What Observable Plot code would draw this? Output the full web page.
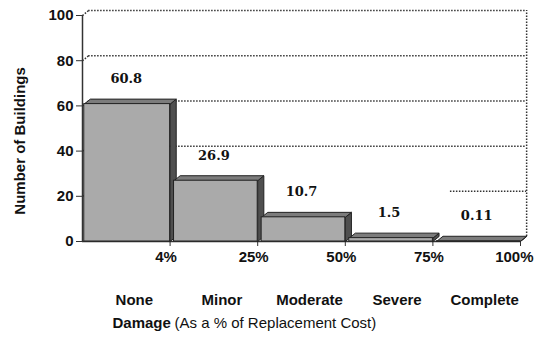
<!DOCTYPE html>
<html><head><meta charset="utf-8">
<script src="https://cdn.jsdelivr.net/npm/d3@7"></script>
<script src="https://cdn.jsdelivr.net/npm/@observablehq/plot@0.6"></script>
<style>html,body{margin:0;padding:0;background:#fff;}</style>
</head><body><div id="chart"></div>
<script>
const categories = ["None", "Minor", "Moderate", "Severe", "Complete"];
const values = [60.8, 26.9, 10.7, 1.5, 0.11];
const valueLabels = ["60.8", "26.9", "10.7", "1.5", "0.11"];
const edgeLabels = ["4%", "25%", "50%", "75%", "100%"];
const yTicks = [0, 20, 40, 60, 80, 100];
const gridLines = [100, 80, 60, 40, 20];

// 3D depth (in scale units) and bar inset
const DX = 0.07, DY = 2.2, GAP = 0.045;
const N = categories.length;

const bars = values.map((v, i) => ({i, v, cat: categories[i], label: valueLabels[i]}));
const edges = edgeLabels.map((t, i) => ({x: i + 1, t}));
const inset = i => i ? GAP : 0.02;
const poly = (pts, z) => [...pts, pts[0]].map(([x, y]) => ({x, y, z}));
const tops = bars.flatMap(b => poly([[b.i + inset(b.i), b.v], [b.i + 1, b.v], [b.i + 1 + DX, b.v + DY], [b.i + inset(b.i) + DX, b.v + DY]], b.i));
const sides = bars.flatMap(b => poly([[b.i + 1, 0], [b.i + 1, b.v], [b.i + 1 + DX, b.v + DY], [b.i + 1 + DX, DY]], b.i));

const dotted = {stroke: "#333", strokeWidth: 1.5, strokeDasharray: "1.5,1.5"};
const lab = {fontSize: 15, fontWeight: "bold", fill: "#111"};

const chart = Plot.plot({
  width: 534,
  height: 338,
  marginLeft: 82,
  marginRight: 14,
  marginTop: 15,
  marginBottom: 97,
  style: {fontFamily: "'Liberation Sans', Arial, sans-serif", fontSize: "15px", fontWeight: "bold", color: "#111", background: "#fff"},
  x: {domain: [0, N], axis: null},
  y: {domain: [0, 100], axis: null},
  marks: [
    // back wall grid
    Plot.ruleY(gridLines.filter(v => v !== 20), {y: d => d + DY, x1: DX, x2: N + DX, ...dotted}),
    Plot.ruleY(gridLines.filter(v => v === 20), {y: d => d + DY, x1: 4.2, x2: N + DX, ...dotted}),
    Plot.ruleX([N + DX], {y1: DY, y2: 100 + DY, ...dotted}),
    Plot.link(yTicks.slice(1), {x1: 0, y1: d => d, x2: DX, y2: d => d + DY, ...dotted}),
    // axes lines
    Plot.ruleX([0], {y1: 0, y2: 100, stroke: "#333", strokeWidth: 1.5}),
    Plot.ruleY([0], {x1: 0, x2: N, stroke: "#333", strokeWidth: 1.5}),
    Plot.axisY(yTicks, {label: null, tickSize: 6, tickPadding: 3, fontSize: 15, fontWeight: "bold", stroke: "#333"}),
    Plot.axisX(edges.map(d => d.x), {label: null, tickSize: 5, tickFormat: () => "", stroke: "#333"}),
    Plot.text(edges.slice(0, -1), {x: "x", y: 0, text: "t", dy: 16, dx: -4, ...lab}),
    Plot.text(edges.slice(-1), {x: "x", y: 0, text: "t", dy: 16, dx: 13, textAnchor: "end", ...lab}),
    // 3D bars
    Plot.line(sides, {x: "x", y: "y", z: "z", fill: "#4f4f4f", stroke: "#222", strokeWidth: 1}),
    Plot.line(tops, {x: "x", y: "y", z: "z", fill: "#7c7c7c", stroke: "#222", strokeWidth: 1}),
    Plot.rect(bars, {x1: d => d.i + inset(d.i), x2: d => d.i + 1, y1: 0, y2: "v", fill: "#aaaaaa", stroke: "#222", strokeWidth: 1}),
    // value labels
    Plot.text(bars, {x: d => d.i + 0.5, y: "v", dy: -25, text: "label", fontFamily: "'DejaVu Serif', serif", fontWeight: "bold", fontSize: 13, fill: "#111"}),
    // category labels
    Plot.text(bars, {x: d => d.i + 0.5, y: 0, dy: 59, dx: 8, text: "cat", ...lab}),
    // x axis title
    Plot.text(["Damage"], {frameAnchor: "bottom-left", dx: 30, dy: 86, textAnchor: "start", ...lab}),
    Plot.text(["(As a % of Replacement Cost)"], {frameAnchor: "bottom-left", dx: 92, dy: 86, textAnchor: "start", fontSize: 15, fontWeight: "normal", fill: "#111"}),
    // y axis title
    Plot.text(["Number of Buildings"], {x: -0.71, y: 44.5, rotate: -90, ...lab})
  ]
});
document.getElementById("chart").append(chart);
</script>
</body></html>
